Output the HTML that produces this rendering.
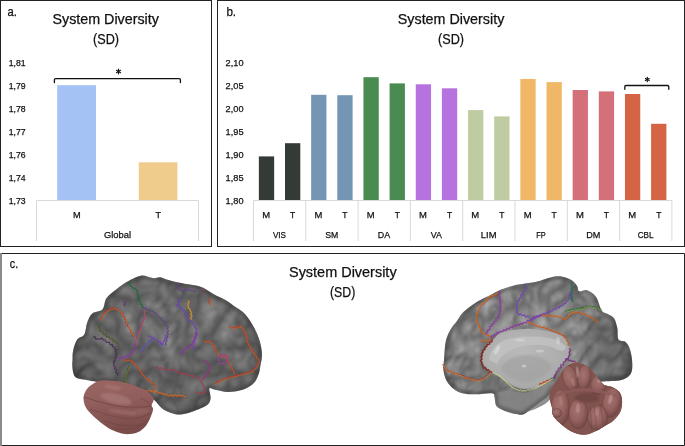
<!DOCTYPE html>
<html><head><meta charset="utf-8"><style>
html,body{margin:0;padding:0;background:#fff;width:685px;height:446px;overflow:hidden}
svg{display:block;font-family:"Liberation Sans", sans-serif}
text{stroke:#111;stroke-width:0.25px}
</style></head><body>
<svg width="685" height="446" viewBox="0 0 685 446">
<defs>
<radialGradient id="gL" cx="0.55" cy="0.4" r="0.65"><stop offset="0" stop-color="#747474"/><stop offset="0.75" stop-color="#676767"/><stop offset="1" stop-color="#4e4e4e"/></radialGradient>
<radialGradient id="gR" cx="0.45" cy="0.45" r="0.65"><stop offset="0" stop-color="#8e8e8e"/><stop offset="0.75" stop-color="#808080"/><stop offset="1" stop-color="#626262"/></radialGradient>
<radialGradient id="gM" cx="0.45" cy="0.4" r="0.7"><stop offset="0" stop-color="#bababa"/><stop offset="0.8" stop-color="#aaaaaa"/><stop offset="1" stop-color="#9a9a9a"/></radialGradient>
<radialGradient id="gC" cx="0.55" cy="0.35" r="0.7"><stop offset="0" stop-color="#9a6664"/><stop offset="0.7" stop-color="#895856"/><stop offset="1" stop-color="#6e4442"/></radialGradient>
</defs>
<clipPath id="cL"><path d="M72.5 360.0 C72.6 357.4 72.3 354.1 73.1 350.7 C73.9 347.3 75.3 342.3 77.2 339.6 C79.1 336.9 82.5 337.5 84.2 334.6 C85.9 331.8 85.9 326.0 87.2 322.5 C88.5 319.0 89.8 315.6 92.3 313.4 C94.8 311.2 100.1 311.9 102.4 309.4 C104.8 306.9 104.1 301.7 106.4 298.3 C108.8 294.9 113.1 291.9 116.5 289.2 C119.9 286.5 122.6 284.4 126.6 282.1 C130.6 279.9 136.3 276.4 140.7 275.7 C145.1 275.0 149.6 277.8 152.8 278.1 C156.0 278.4 157.7 277.1 160.0 277.3 C162.3 277.6 163.7 278.7 166.7 279.6 C169.7 280.5 173.9 281.6 178.0 282.5 C182.1 283.4 187.3 283.9 191.4 284.7 C195.5 285.5 198.9 285.8 202.6 287.4 C206.3 289.0 210.1 292.1 213.8 294.2 C217.5 296.3 221.2 297.6 225.0 299.8 C228.8 302.0 232.9 305.2 236.3 307.6 C239.7 310.0 242.2 310.9 245.2 314.3 C248.2 317.7 251.8 323.3 254.2 327.8 C256.6 332.3 258.5 336.8 259.8 341.3 C261.1 345.8 261.9 350.8 262.0 354.7 C262.1 358.6 261.0 361.9 260.5 365.0 C260.0 368.1 259.8 370.7 258.8 373.6 C257.8 376.5 256.7 380.0 254.3 382.6 C251.9 385.2 248.5 387.7 244.2 389.3 C239.9 390.9 233.4 391.9 228.5 392.0 C223.6 392.1 218.2 390.4 215.0 389.8 C211.8 389.2 210.1 387.1 209.4 388.5 C208.7 389.9 211.0 395.6 210.6 398.3 C210.2 401.1 209.8 402.9 207.2 405.0 C204.6 407.1 198.8 409.2 194.9 410.7 C191.0 412.2 187.0 413.4 183.6 414.0 C180.2 414.6 178.0 414.8 174.7 414.0 C171.3 413.2 166.9 411.8 163.5 409.5 C160.1 407.2 157.2 402.8 154.2 400.0 C151.1 397.2 149.7 395.0 145.2 393.0 C140.7 391.0 133.2 389.7 127.3 388.2 C121.4 386.7 116.3 385.3 110.0 384.0 C103.7 382.7 94.7 381.4 89.2 380.4 C83.7 379.4 79.4 379.2 76.8 378.1 C74.2 377.0 74.2 375.6 73.5 373.6 C72.8 371.6 72.5 368.3 72.3 366.0 C72.1 363.7 72.4 362.6 72.5 360.0Z"/></clipPath>
<clipPath id="cR"><path d="M443.4 370.0 C442.9 366.5 443.7 364.0 444.0 359.7 C444.3 355.4 444.7 347.9 445.3 344.0 C445.9 340.1 446.4 338.8 447.4 336.1 C448.4 333.4 449.9 330.5 451.5 328.0 C453.1 325.5 455.0 323.8 456.8 321.3 C458.6 318.9 459.9 315.8 462.2 313.3 C464.4 310.8 467.6 308.5 470.3 306.5 C473.0 304.5 475.3 302.9 478.4 301.1 C481.5 299.3 485.8 297.5 489.1 295.8 C492.4 294.1 495.4 292.2 498.0 291.0 C500.6 289.8 501.6 289.4 505.0 288.3 C508.4 287.2 513.6 285.6 518.5 284.6 C523.4 283.6 529.7 283.2 534.2 282.3 C538.7 281.4 542.2 279.9 545.4 279.0 C548.6 278.1 550.7 277.1 553.5 276.7 C556.3 276.3 559.4 276.1 562.4 276.7 C565.4 277.3 569.0 278.6 571.4 280.1 C573.8 281.6 575.7 283.8 577.0 285.7 C578.3 287.6 577.6 290.6 579.3 291.3 C581.0 292.1 584.3 289.3 587.1 290.2 C589.9 291.1 593.7 293.5 596.1 296.9 C598.5 300.3 599.8 307.6 601.7 310.4 C603.6 313.2 605.2 312.4 607.3 313.7 C609.3 315.0 612.3 315.8 614.0 318.2 C615.7 320.6 616.6 324.8 617.4 328.3 C618.1 331.9 617.2 337.2 618.5 339.5 C619.8 341.8 623.3 340.3 625.2 341.8 C627.1 343.3 628.6 345.5 629.7 348.5 C630.8 351.5 631.6 356.1 632.0 359.7 C632.4 363.3 632.5 367.2 632.0 370.0 C631.5 372.8 630.6 374.5 628.7 376.2 C626.8 377.9 624.3 379.3 620.6 380.2 C616.9 381.1 613.3 380.7 606.5 381.3 C599.7 381.9 587.8 383.2 580.0 384.0 C572.2 384.8 564.6 385.0 560.0 386.0 C555.4 387.0 554.2 388.1 552.2 389.9 C550.2 391.7 550.0 394.4 547.7 396.6 C545.5 398.8 541.7 401.1 538.7 403.3 C535.7 405.5 532.3 408.1 529.7 410.0 C527.1 411.9 525.6 413.9 523.0 414.5 C520.4 415.1 517.4 414.1 514.0 413.4 C510.6 412.6 505.8 411.3 502.8 410.0 C499.8 408.7 497.4 407.8 496.1 405.6 C494.8 403.4 495.8 398.7 495.0 396.6 C494.2 394.5 494.8 393.6 491.6 393.2 C488.4 392.8 480.8 394.3 475.9 394.3 C471.0 394.3 466.1 394.1 462.4 393.2 C458.7 392.3 456.1 390.8 453.5 388.7 C450.9 386.6 448.4 384.0 446.7 380.9 C445.0 377.8 443.8 373.5 443.4 370.0Z"/></clipPath>
<filter id="tex" x="0" y="0" width="100%" height="100%" filterUnits="userSpaceOnUse" color-interpolation-filters="sRGB"><feTurbulence type="turbulence" baseFrequency="0.05 0.04" numOctaves="2" seed="11" result="n"/><feColorMatrix in="n" type="matrix" values="0 0 0 0 0  0 0 0 0 0  0 0 0 0 0  1 0 0 0 0" result="h"/><feGaussianBlur in="h" stdDeviation="0.8" result="hb"/><feDiffuseLighting in="hb" surfaceScale="3" diffuseConstant="1" lighting-color="#fff" result="lit"><feDistantLight azimuth="235" elevation="55"/></feDiffuseLighting><feColorMatrix in="hb" type="matrix" values="0 0 0 1 0  0 0 0 1 0  0 0 0 1 0  0 0 0 0 1" result="g0"/><feComponentTransfer in="g0" result="col"><feFuncR type="table" tableValues="0.33 0.42 0.5 0.58 0.64 0.68"/><feFuncG type="table" tableValues="0.33 0.42 0.5 0.58 0.64 0.68"/><feFuncB type="table" tableValues="0.33 0.42 0.5 0.58 0.64 0.68"/></feComponentTransfer><feComposite in="col" in2="lit" operator="arithmetic" k1="0" k2="0.8" k3="0.25" k4="-0.105"/></filter>
<filter id="tex2" x="0" y="0" width="100%" height="100%" filterUnits="userSpaceOnUse" color-interpolation-filters="sRGB"><feTurbulence type="turbulence" baseFrequency="0.06 0.05" numOctaves="2" seed="4" result="n"/><feColorMatrix in="n" type="matrix" values="0 0 0 0 0  0 0 0 0 0  0 0 0 0 0  1 0 0 0 0" result="h"/><feGaussianBlur in="h" stdDeviation="0.8" result="hb"/><feDiffuseLighting in="hb" surfaceScale="3" diffuseConstant="1" lighting-color="#fff" result="lit"><feDistantLight azimuth="235" elevation="55"/></feDiffuseLighting><feColorMatrix in="hb" type="matrix" values="0 0 0 1 0  0 0 0 1 0  0 0 0 1 0  0 0 0 0 1" result="g0"/><feComponentTransfer in="g0" result="col"><feFuncR type="table" tableValues="0.33 0.42 0.5 0.58 0.64 0.68"/><feFuncG type="table" tableValues="0.33 0.42 0.5 0.58 0.64 0.68"/><feFuncB type="table" tableValues="0.33 0.42 0.5 0.58 0.64 0.68"/></feComponentTransfer><feComposite in="col" in2="lit" operator="arithmetic" k1="0" k2="0.8" k3="0.25" k4="-0.105"/></filter>
<path d="M72.5 360.0 C72.6 357.4 72.3 354.1 73.1 350.7 C73.9 347.3 75.3 342.3 77.2 339.6 C79.1 336.9 82.5 337.5 84.2 334.6 C85.9 331.8 85.9 326.0 87.2 322.5 C88.5 319.0 89.8 315.6 92.3 313.4 C94.8 311.2 100.1 311.9 102.4 309.4 C104.8 306.9 104.1 301.7 106.4 298.3 C108.8 294.9 113.1 291.9 116.5 289.2 C119.9 286.5 122.6 284.4 126.6 282.1 C130.6 279.9 136.3 276.4 140.7 275.7 C145.1 275.0 149.6 277.8 152.8 278.1 C156.0 278.4 157.7 277.1 160.0 277.3 C162.3 277.6 163.7 278.7 166.7 279.6 C169.7 280.5 173.9 281.6 178.0 282.5 C182.1 283.4 187.3 283.9 191.4 284.7 C195.5 285.5 198.9 285.8 202.6 287.4 C206.3 289.0 210.1 292.1 213.8 294.2 C217.5 296.3 221.2 297.6 225.0 299.8 C228.8 302.0 232.9 305.2 236.3 307.6 C239.7 310.0 242.2 310.9 245.2 314.3 C248.2 317.7 251.8 323.3 254.2 327.8 C256.6 332.3 258.5 336.8 259.8 341.3 C261.1 345.8 261.9 350.8 262.0 354.7 C262.1 358.6 261.0 361.9 260.5 365.0 C260.0 368.1 259.8 370.7 258.8 373.6 C257.8 376.5 256.7 380.0 254.3 382.6 C251.9 385.2 248.5 387.7 244.2 389.3 C239.9 390.9 233.4 391.9 228.5 392.0 C223.6 392.1 218.2 390.4 215.0 389.8 C211.8 389.2 210.1 387.1 209.4 388.5 C208.7 389.9 211.0 395.6 210.6 398.3 C210.2 401.1 209.8 402.9 207.2 405.0 C204.6 407.1 198.8 409.2 194.9 410.7 C191.0 412.2 187.0 413.4 183.6 414.0 C180.2 414.6 178.0 414.8 174.7 414.0 C171.3 413.2 166.9 411.8 163.5 409.5 C160.1 407.2 157.2 402.8 154.2 400.0 C151.1 397.2 149.7 395.0 145.2 393.0 C140.7 391.0 133.2 389.7 127.3 388.2 C121.4 386.7 116.3 385.3 110.0 384.0 C103.7 382.7 94.7 381.4 89.2 380.4 C83.7 379.4 79.4 379.2 76.8 378.1 C74.2 377.0 74.2 375.6 73.5 373.6 C72.8 371.6 72.5 368.3 72.3 366.0 C72.1 363.7 72.4 362.6 72.5 360.0Z" fill="url(#gL)"/>
<g clip-path="url(#cL)" style="mix-blend-mode:overlay"><rect x="60" y="270" width="210" height="150" filter="url(#tex)"/></g>
<g clip-path="url(#cL)"><path d="M72.5 360.0 C72.6 357.4 72.3 354.1 73.1 350.7 C73.9 347.3 75.3 342.3 77.2 339.6 C79.1 336.9 82.5 337.5 84.2 334.6 C85.9 331.8 85.9 326.0 87.2 322.5 C88.5 319.0 89.8 315.6 92.3 313.4 C94.8 311.2 100.1 311.9 102.4 309.4 C104.8 306.9 104.1 301.7 106.4 298.3 C108.8 294.9 113.1 291.9 116.5 289.2 C119.9 286.5 122.6 284.4 126.6 282.1 C130.6 279.9 136.3 276.4 140.7 275.7 C145.1 275.0 149.6 277.8 152.8 278.1 C156.0 278.4 157.7 277.1 160.0 277.3 C162.3 277.6 163.7 278.7 166.7 279.6 C169.7 280.5 173.9 281.6 178.0 282.5 C182.1 283.4 187.3 283.9 191.4 284.7 C195.5 285.5 198.9 285.8 202.6 287.4 C206.3 289.0 210.1 292.1 213.8 294.2 C217.5 296.3 221.2 297.6 225.0 299.8 C228.8 302.0 232.9 305.2 236.3 307.6 C239.7 310.0 242.2 310.9 245.2 314.3 C248.2 317.7 251.8 323.3 254.2 327.8 C256.6 332.3 258.5 336.8 259.8 341.3 C261.1 345.8 261.9 350.8 262.0 354.7 C262.1 358.6 261.0 361.9 260.5 365.0 C260.0 368.1 259.8 370.7 258.8 373.6 C257.8 376.5 256.7 380.0 254.3 382.6 C251.9 385.2 248.5 387.7 244.2 389.3 C239.9 390.9 233.4 391.9 228.5 392.0 C223.6 392.1 218.2 390.4 215.0 389.8 C211.8 389.2 210.1 387.1 209.4 388.5 C208.7 389.9 211.0 395.6 210.6 398.3 C210.2 401.1 209.8 402.9 207.2 405.0 C204.6 407.1 198.8 409.2 194.9 410.7 C191.0 412.2 187.0 413.4 183.6 414.0 C180.2 414.6 178.0 414.8 174.7 414.0 C171.3 413.2 166.9 411.8 163.5 409.5 C160.1 407.2 157.2 402.8 154.2 400.0 C151.1 397.2 149.7 395.0 145.2 393.0 C140.7 391.0 133.2 389.7 127.3 388.2 C121.4 386.7 116.3 385.3 110.0 384.0 C103.7 382.7 94.7 381.4 89.2 380.4 C83.7 379.4 79.4 379.2 76.8 378.1 C74.2 377.0 74.2 375.6 73.5 373.6 C72.8 371.6 72.5 368.3 72.3 366.0 C72.1 363.7 72.4 362.6 72.5 360.0Z" fill="none" stroke="#333" stroke-width="7" opacity="0.35" filter="url(#bl1)"/></g>
<path d="M443.4 370.0 C442.9 366.5 443.7 364.0 444.0 359.7 C444.3 355.4 444.7 347.9 445.3 344.0 C445.9 340.1 446.4 338.8 447.4 336.1 C448.4 333.4 449.9 330.5 451.5 328.0 C453.1 325.5 455.0 323.8 456.8 321.3 C458.6 318.9 459.9 315.8 462.2 313.3 C464.4 310.8 467.6 308.5 470.3 306.5 C473.0 304.5 475.3 302.9 478.4 301.1 C481.5 299.3 485.8 297.5 489.1 295.8 C492.4 294.1 495.4 292.2 498.0 291.0 C500.6 289.8 501.6 289.4 505.0 288.3 C508.4 287.2 513.6 285.6 518.5 284.6 C523.4 283.6 529.7 283.2 534.2 282.3 C538.7 281.4 542.2 279.9 545.4 279.0 C548.6 278.1 550.7 277.1 553.5 276.7 C556.3 276.3 559.4 276.1 562.4 276.7 C565.4 277.3 569.0 278.6 571.4 280.1 C573.8 281.6 575.7 283.8 577.0 285.7 C578.3 287.6 577.6 290.6 579.3 291.3 C581.0 292.1 584.3 289.3 587.1 290.2 C589.9 291.1 593.7 293.5 596.1 296.9 C598.5 300.3 599.8 307.6 601.7 310.4 C603.6 313.2 605.2 312.4 607.3 313.7 C609.3 315.0 612.3 315.8 614.0 318.2 C615.7 320.6 616.6 324.8 617.4 328.3 C618.1 331.9 617.2 337.2 618.5 339.5 C619.8 341.8 623.3 340.3 625.2 341.8 C627.1 343.3 628.6 345.5 629.7 348.5 C630.8 351.5 631.6 356.1 632.0 359.7 C632.4 363.3 632.5 367.2 632.0 370.0 C631.5 372.8 630.6 374.5 628.7 376.2 C626.8 377.9 624.3 379.3 620.6 380.2 C616.9 381.1 613.3 380.7 606.5 381.3 C599.7 381.9 587.8 383.2 580.0 384.0 C572.2 384.8 564.6 385.0 560.0 386.0 C555.4 387.0 554.2 388.1 552.2 389.9 C550.2 391.7 550.0 394.4 547.7 396.6 C545.5 398.8 541.7 401.1 538.7 403.3 C535.7 405.5 532.3 408.1 529.7 410.0 C527.1 411.9 525.6 413.9 523.0 414.5 C520.4 415.1 517.4 414.1 514.0 413.4 C510.6 412.6 505.8 411.3 502.8 410.0 C499.8 408.7 497.4 407.8 496.1 405.6 C494.8 403.4 495.8 398.7 495.0 396.6 C494.2 394.5 494.8 393.6 491.6 393.2 C488.4 392.8 480.8 394.3 475.9 394.3 C471.0 394.3 466.1 394.1 462.4 393.2 C458.7 392.3 456.1 390.8 453.5 388.7 C450.9 386.6 448.4 384.0 446.7 380.9 C445.0 377.8 443.8 373.5 443.4 370.0Z" fill="url(#gR)"/>
<g clip-path="url(#cR)" style="mix-blend-mode:overlay"><rect x="435" y="270" width="205" height="150" filter="url(#tex2)"/></g>
<path d="M495.0 394.0 C496.8 392.8 501.7 391.4 505.0 391.0 C508.3 390.6 511.9 391.2 515.0 391.5 C518.1 391.8 520.3 393.3 523.6 393.0 C526.9 392.7 531.3 390.8 535.0 389.5 C538.7 388.2 543.2 386.9 546.0 385.5 C548.8 384.1 550.3 380.9 552.0 381.0 C553.7 381.1 555.8 383.7 556.0 386.0 C556.2 388.3 554.8 392.0 553.0 395.0 C551.2 398.0 548.7 401.4 545.0 404.0 C541.3 406.6 535.7 408.8 531.0 410.5 C526.3 412.2 521.3 413.9 517.0 414.0 C512.7 414.1 508.3 412.5 505.0 411.0 C501.7 409.5 498.8 407.2 497.0 405.0 C495.2 402.8 494.8 399.8 494.5 398.0 C494.2 396.2 493.2 395.2 495.0 394.0Z" fill="#858585" opacity="0.9" filter="url(#bl05)"/>
<path d="M590.0 322.0 C593.2 318.8 600.7 316.0 605.0 316.0 C609.3 316.0 613.7 318.3 616.0 322.0 C618.3 325.7 617.0 334.2 619.0 338.0 C621.0 341.8 625.8 341.3 628.0 345.0 C630.2 348.7 631.5 355.5 632.0 360.0 C632.5 364.5 632.0 369.0 631.0 372.0 C630.0 375.0 629.2 376.7 626.0 378.0 C622.8 379.3 616.3 380.0 612.0 380.0 C607.7 380.0 603.7 380.0 600.0 378.0 C596.3 376.0 592.5 372.7 590.0 368.0 C587.5 363.3 585.7 355.5 585.0 350.0 C584.3 344.5 585.2 339.7 586.0 335.0 C586.8 330.3 586.8 325.2 590.0 322.0Z" fill="#3a3a3a" opacity="0.25" filter="url(#bl1)" clip-path="url(#cR)"/>
<g clip-path="url(#cR)"><path d="M443.4 370.0 C442.9 366.5 443.7 364.0 444.0 359.7 C444.3 355.4 444.7 347.9 445.3 344.0 C445.9 340.1 446.4 338.8 447.4 336.1 C448.4 333.4 449.9 330.5 451.5 328.0 C453.1 325.5 455.0 323.8 456.8 321.3 C458.6 318.9 459.9 315.8 462.2 313.3 C464.4 310.8 467.6 308.5 470.3 306.5 C473.0 304.5 475.3 302.9 478.4 301.1 C481.5 299.3 485.8 297.5 489.1 295.8 C492.4 294.1 495.4 292.2 498.0 291.0 C500.6 289.8 501.6 289.4 505.0 288.3 C508.4 287.2 513.6 285.6 518.5 284.6 C523.4 283.6 529.7 283.2 534.2 282.3 C538.7 281.4 542.2 279.9 545.4 279.0 C548.6 278.1 550.7 277.1 553.5 276.7 C556.3 276.3 559.4 276.1 562.4 276.7 C565.4 277.3 569.0 278.6 571.4 280.1 C573.8 281.6 575.7 283.8 577.0 285.7 C578.3 287.6 577.6 290.6 579.3 291.3 C581.0 292.1 584.3 289.3 587.1 290.2 C589.9 291.1 593.7 293.5 596.1 296.9 C598.5 300.3 599.8 307.6 601.7 310.4 C603.6 313.2 605.2 312.4 607.3 313.7 C609.3 315.0 612.3 315.8 614.0 318.2 C615.7 320.6 616.6 324.8 617.4 328.3 C618.1 331.9 617.2 337.2 618.5 339.5 C619.8 341.8 623.3 340.3 625.2 341.8 C627.1 343.3 628.6 345.5 629.7 348.5 C630.8 351.5 631.6 356.1 632.0 359.7 C632.4 363.3 632.5 367.2 632.0 370.0 C631.5 372.8 630.6 374.5 628.7 376.2 C626.8 377.9 624.3 379.3 620.6 380.2 C616.9 381.1 613.3 380.7 606.5 381.3 C599.7 381.9 587.8 383.2 580.0 384.0 C572.2 384.8 564.6 385.0 560.0 386.0 C555.4 387.0 554.2 388.1 552.2 389.9 C550.2 391.7 550.0 394.4 547.7 396.6 C545.5 398.8 541.7 401.1 538.7 403.3 C535.7 405.5 532.3 408.1 529.7 410.0 C527.1 411.9 525.6 413.9 523.0 414.5 C520.4 415.1 517.4 414.1 514.0 413.4 C510.6 412.6 505.8 411.3 502.8 410.0 C499.8 408.7 497.4 407.8 496.1 405.6 C494.8 403.4 495.8 398.7 495.0 396.6 C494.2 394.5 494.8 393.6 491.6 393.2 C488.4 392.8 480.8 394.3 475.9 394.3 C471.0 394.3 466.1 394.1 462.4 393.2 C458.7 392.3 456.1 390.8 453.5 388.7 C450.9 386.6 448.4 384.0 446.7 380.9 C445.0 377.8 443.8 373.5 443.4 370.0Z" fill="none" stroke="#333" stroke-width="7" opacity="0.35" filter="url(#bl1)"/></g>
<path d="M493.7 339.1 C495.5 337.3 495.7 335.8 498.4 334.4 C501.1 333.0 505.6 331.4 510.0 330.5 C514.5 329.6 520.6 329.1 525.1 328.9 C529.6 328.7 533.1 329.1 537.0 329.5 C540.9 329.9 544.9 330.5 548.6 331.3 C552.3 332.1 556.1 333.2 559.0 334.5 C561.9 335.8 564.1 336.8 565.9 339.1 C567.7 341.4 569.3 345.6 569.8 348.5 C570.3 351.4 570.2 353.5 569.0 356.4 C567.8 359.3 565.1 362.7 562.8 365.8 C560.4 368.9 557.0 373.1 554.9 375.2 C552.8 377.3 551.8 377.1 550.2 378.4 C548.6 379.7 547.1 381.8 545.5 383.1 C543.9 384.4 543.4 385.3 540.8 386.2 C538.2 387.1 533.2 388.1 529.8 388.5 C526.4 388.9 523.8 389.3 520.4 388.5 C517.0 387.7 513.3 385.7 509.4 383.5 C505.5 381.3 500.5 377.6 496.8 375.2 C493.1 372.8 489.9 371.4 487.4 369.0 C484.9 366.6 482.7 363.7 481.9 361.1 C481.1 358.5 481.8 355.9 482.7 353.3 C483.6 350.7 485.6 347.8 487.4 345.4 C489.2 343.0 491.9 340.9 493.7 339.1Z" fill="url(#gM)"/>
<clipPath id="cM"><path d="M493.7 339.1 C495.5 337.3 495.7 335.8 498.4 334.4 C501.1 333.0 505.6 331.4 510.0 330.5 C514.5 329.6 520.6 329.1 525.1 328.9 C529.6 328.7 533.1 329.1 537.0 329.5 C540.9 329.9 544.9 330.5 548.6 331.3 C552.3 332.1 556.1 333.2 559.0 334.5 C561.9 335.8 564.1 336.8 565.9 339.1 C567.7 341.4 569.3 345.6 569.8 348.5 C570.3 351.4 570.2 353.5 569.0 356.4 C567.8 359.3 565.1 362.7 562.8 365.8 C560.4 368.9 557.0 373.1 554.9 375.2 C552.8 377.3 551.8 377.1 550.2 378.4 C548.6 379.7 547.1 381.8 545.5 383.1 C543.9 384.4 543.4 385.3 540.8 386.2 C538.2 387.1 533.2 388.1 529.8 388.5 C526.4 388.9 523.8 389.3 520.4 388.5 C517.0 387.7 513.3 385.7 509.4 383.5 C505.5 381.3 500.5 377.6 496.8 375.2 C493.1 372.8 489.9 371.4 487.4 369.0 C484.9 366.6 482.7 363.7 481.9 361.1 C481.1 358.5 481.8 355.9 482.7 353.3 C483.6 350.7 485.6 347.8 487.4 345.4 C489.2 343.0 491.9 340.9 493.7 339.1Z"/></clipPath>
<g clip-path="url(#cM)">
<path d="M489 360 C490 345 505 337 525 336.5 C545 336 560 338 566 347 C565 352 560 352 553 347.5 C545 344 530 344 520 347 C508 350 500 356 497 364 Z" fill="#c2c2c2" opacity="0.85" filter="url(#bl05)"/>
<path d="M500 368 C505 360 515 355 528 355 C540 355 548 360 552 367 C547 375 538 380 528 382 C516 382 506 377 500 368Z" fill="#a2a2a2" opacity="0.7" filter="url(#bl1)"/>
<ellipse cx="497" cy="350" rx="2" ry="5" transform="rotate(30 497 350)" fill="#e0e0e0" opacity="0.6" filter="url(#bl05)"/>
<ellipse cx="520" cy="340" rx="5" ry="1.5" fill="#dedede" opacity="0.5" filter="url(#bl05)"/>
<ellipse cx="540" cy="351" rx="4" ry="1.5" fill="#dedede" opacity="0.5" filter="url(#bl05)"/>
<ellipse cx="558" cy="341" rx="2" ry="4" fill="#d8d8d8" opacity="0.5" filter="url(#bl05)"/>
<ellipse cx="524" cy="366" rx="2.5" ry="1.5" fill="#e0e0e0" opacity="0.5" filter="url(#bl05)"/>
</g>
<polyline points="128.3,282.9 130.3,283.6 129.9,285.7 131.6,286.1 132.7,288.3 134.9,288.1 136.0,289.4 137.8,291.0 137.0,293.4 138.6,295.0 137.7,297.2 139.8,298.4 138.7,300.5 140.8,301.7 140.0,304.1 142.1,304.7 142.2,306.9 143.9,307.8" fill="none" stroke="#1f6a2a" stroke-width="1.15" stroke-linejoin="round" opacity="0.85"/>
<polyline points="128.7,283.4 130.6,284.2 130.5,286.2 132.1,286.8 133.4,288.4 135.5,288.4 136.4,289.9 137.9,291.7 137.7,293.8 139.2,295.5 138.6,297.5 140.2,298.9 139.5,300.9 141.2,302.3 140.6,304.5 142.6,305.2 142.8,307.3 144.4,308.3" fill="none" stroke="#1f6a60" stroke-width="0.6" stroke-linejoin="round" opacity="0.8"/>
<polyline points="143.7,308.4 145.9,307.5 147.0,309.8 149.2,309.1 150.4,310.8 152.6,310.7 153.3,312.7 155.7,312.8 156.0,315.0 158.2,315.3 158.5,317.5 160.7,317.8 161.1,320.0 163.4,320.3 163.5,322.5 166.0,323.2 165.7,325.9 168.4,327.1 166.6,328.8 168.5,330.5 166.8,332.1 167.9,333.9 166.3,335.4 167.9,337.4 165.8,338.7 167.0,340.8 165.1,342.1 165.9,344.1 165.0,345.7" fill="none" stroke="#8038a8" stroke-width="1.15" stroke-linejoin="round" opacity="0.85"/>
<polyline points="144.2,308.9 146.3,308.4 147.7,309.8 149.6,309.7 150.9,311.4 153.1,311.0 154.3,312.7 156.2,313.3 156.7,315.3 158.5,316.0 159.2,317.8 161.2,318.3 161.6,320.5 163.5,321.1 164.1,322.9 166.0,324.1 166.4,326.3 168.4,327.6 167.4,329.3 168.8,331.0 167.6,332.6 168.6,334.5 167.2,336.0 167.8,337.8 166.7,339.3 167.1,341.2 166.0,342.7 166.4,344.6 165.5,346.2" fill="none" stroke="#1f6a2a" stroke-width="0.6" stroke-linejoin="round" opacity="0.8"/>
<polyline points="143.1,309.6 144.6,311.3 143.9,313.4 145.5,315.1 144.2,316.9 145.1,319.1 142.7,320.1 143.5,322.3 141.7,323.6 142.3,325.7 140.3,326.9 141.1,329.1 139.0,330.2 139.8,332.4 137.6,333.5 138.5,335.8 136.6,337.1 137.6,339.3 135.8,341.0 136.5,343.2 135.5,345.0" fill="none" stroke="#a03490" stroke-width="1.15" stroke-linejoin="round" opacity="0.85"/>
<polyline points="143.7,310.1 145.1,311.8 144.3,313.9 145.4,315.7 144.9,317.4 145.2,319.5 143.8,320.8 143.9,322.8 142.3,324.1 142.5,326.1 141.0,327.5 141.3,329.5 139.7,330.8 140.0,332.8 138.4,334.1 138.9,336.2 137.4,337.6 137.6,339.7 136.3,341.5 137.1,343.7 136.0,345.5" fill="none" stroke="#d07a28" stroke-width="0.6" stroke-linejoin="round" opacity="0.8"/>
<polyline points="148.1,337.1 150.0,335.5 151.2,337.7 153.6,337.4 154.8,339.6 157.2,339.7 158.0,341.7 160.3,341.6 161.0,343.8 163.6,345.1" fill="none" stroke="#8038a8" stroke-width="1.15" stroke-linejoin="round" opacity="0.85"/>
<polyline points="148.5,337.5 150.5,336.1 151.9,337.8 154.1,338.0 155.3,340.1 157.6,340.4 158.7,342.1 160.8,342.3 161.6,344.1 164.1,345.6" fill="none" stroke="#4a5fc0" stroke-width="0.6" stroke-linejoin="round" opacity="0.8"/>
<polyline points="100.8,320.6 100.5,318.4 102.7,317.4 102.3,315.2 104.0,314.2 104.5,312.2 106.7,312.3 107.0,310.0 109.0,310.4 110.2,308.4 112.2,308.9 114.1,307.1 115.0,309.5 117.3,308.9 118.3,310.7 120.4,311.4 121.0,313.6 123.4,314.3 122.8,316.3 125.0,317.1 124.4,319.1 126.0,320.1 125.6,322.5 127.9,323.5 127.2,325.9 129.4,326.9 129.2,329.1 131.0,330.3 130.6,332.7 132.9,333.5 133.1,335.9 134.7,337.2" fill="none" stroke="#b8321e" stroke-width="1.15" stroke-linejoin="round" opacity="0.85"/>
<polyline points="101.2,321.1 101.2,319.0 102.9,317.8 102.7,315.6 104.3,314.5 105.2,312.9 107.1,312.6 107.5,310.5 109.4,310.7 110.7,309.0 112.8,309.5 114.5,307.7 115.7,309.5 117.8,309.4 118.8,311.2 121.0,311.8 121.6,314.0 123.8,314.8 123.7,316.7 125.1,317.8 125.1,319.6 126.5,320.7 126.5,322.8 128.2,324.0 128.2,326.1 129.9,327.4 129.6,329.6 131.6,330.7 131.3,333.1 133.5,334.0 133.6,336.3 135.2,337.7" fill="none" stroke="#d07a28" stroke-width="0.6" stroke-linejoin="round" opacity="0.8"/>
<polyline points="97.3,324.0 99.1,325.2 98.5,327.3 100.2,328.6 99.7,331.1 102.5,331.7 103.2,334.4 105.8,334.2 106.6,336.7 109.0,336.7 110.1,338.8 112.5,338.7 113.3,341.2 115.8,341.0 116.7,343.3 118.7,343.9" fill="none" stroke="#1f6a2a" stroke-width="1.15" stroke-linejoin="round" opacity="0.85"/>
<polyline points="97.8,324.4 99.3,325.8 98.9,327.9 100.5,329.2 100.4,331.4 102.9,332.2 103.8,334.9 106.1,335.0 107.3,336.9 109.5,337.2 110.5,339.4 112.7,339.7 114.0,341.4 116.1,341.9 117.3,343.7 119.2,344.4" fill="none" stroke="#b8321e" stroke-width="0.6" stroke-linejoin="round" opacity="0.8"/>
<polyline points="93.1,337.3 95.2,336.9 95.8,339.1 97.5,338.8 99.8,339.2 102.1,338.0 103.2,339.9 105.4,340.2 106.4,342.5 109.1,342.1 110.0,344.4 112.4,344.6 112.5,346.7 114.5,347.2 114.6,349.2 116.9,350.1 115.4,351.8 116.7,353.5 115.6,355.2 116.7,357.1 115.0,358.4 115.5,360.5 113.5,361.6 114.2,363.4 113.7,365.4 115.2,366.8 114.7,368.9 116.6,370.1 115.7,372.4 117.8,373.5 117.8,375.4" fill="none" stroke="#2a2a2a" stroke-width="1.15" stroke-linejoin="round" opacity="0.85"/>
<polyline points="93.6,337.7 95.6,337.6 96.5,339.3 98.0,339.3 100.3,339.8 102.6,338.4 103.7,340.4 106.0,340.6 107.1,342.6 109.3,343.0 110.4,344.9 112.8,345.2 113.2,347.1 114.9,347.8 115.2,349.7 117.3,350.6 115.9,352.3 117.0,354.0 115.9,355.7 117.2,357.6 115.6,358.9 115.8,360.9 114.4,362.3 114.7,363.9 114.1,366.0 115.9,367.3 115.2,369.4 117.0,370.7 116.5,372.8 118.2,374.0 118.3,375.9" fill="none" stroke="#8038a8" stroke-width="0.6" stroke-linejoin="round" opacity="0.8"/>
<polyline points="123.3,301.2 124.8,302.6 123.9,304.5 124.6,306.1" fill="none" stroke="#8038a8" stroke-width="1.15" stroke-linejoin="round" opacity="0.85"/>
<polyline points="123.9,301.7 125.2,303.2 124.5,305.0 125.1,306.6" fill="none" stroke="#2a2a2a" stroke-width="0.6" stroke-linejoin="round" opacity="0.8"/>
<polyline points="178.0,282.5 178.7,284.6 177.1,286.4 178.0,288.1 178.9,289.7 181.0,289.4 182.0,291.5 183.6,289.6 186.1,290.6 188.0,288.4 189.5,290.8 191.9,289.7 194.0,291.8 196.2,290.1" fill="none" stroke="#8038a8" stroke-width="1.15" stroke-linejoin="round" opacity="0.85"/>
<polyline points="178.7,283.1 179.3,285.1 178.0,287.0 178.5,288.5 179.4,290.1 181.3,290.2 182.6,292.1 184.3,290.6 186.5,290.8 188.4,289.3 190.1,291.0 192.3,290.6 194.3,291.8 196.7,290.6" fill="none" stroke="#1f6a2a" stroke-width="0.6" stroke-linejoin="round" opacity="0.8"/>
<polyline points="179.7,298.3 180.0,300.6 177.7,301.6 178.2,303.9 176.5,305.8 178.9,305.9 179.9,308.1 182.4,308.3 182.6,310.6 184.7,311.6 184.4,314.2 186.6,314.8 186.2,317.1 188.2,317.9 188.1,320.2 190.4,320.0 190.6,322.3 192.9,322.2 193.1,324.1 195.2,325.1 194.5,327.5 196.7,328.8 195.7,330.5 197.0,332.2 195.3,333.6 196.3,335.8 194.4,337.0 195.3,339.0 193.8,340.5 194.7,342.4 193.4,343.9 194.4,345.9 192.7,347.7 192.8,350.0" fill="none" stroke="#8038a8" stroke-width="1.15" stroke-linejoin="round" opacity="0.85"/>
<polyline points="180.3,298.9 180.4,301.0 178.4,302.1 178.5,304.3 177.0,306.3 179.3,306.5 180.3,308.6 182.8,308.9 183.2,311.1 184.9,312.3 185.4,314.4 187.0,315.4 187.0,317.4 188.6,318.4 188.8,320.4 190.6,320.8 191.3,322.7 193.2,323.0 193.6,324.6 195.5,325.7 195.4,327.9 197.2,329.3 196.1,331.0 197.3,332.7 196.2,334.2 196.6,336.2 195.0,337.5 195.6,339.5 194.3,341.0 195.2,342.9 193.7,344.4 194.7,346.3 193.4,348.3 193.3,350.5" fill="none" stroke="#4a5fc0" stroke-width="0.6" stroke-linejoin="round" opacity="0.8"/>
<polyline points="188.1,300.1 189.1,302.3 187.3,304.0 188.6,305.6 187.8,308.0 189.9,308.8 189.8,310.8 191.7,312.0 190.6,313.9 191.9,315.8 190.2,317.7 191.1,319.6" fill="none" stroke="#d07a28" stroke-width="1.15" stroke-linejoin="round" opacity="0.85"/>
<polyline points="188.4,300.6 189.2,302.7 187.9,304.5 188.7,306.4 188.7,308.3 190.5,309.3 190.5,311.2 191.9,312.5 191.0,314.4 192.0,316.3 191.2,318.2 191.6,320.1" fill="none" stroke="#c8b850" stroke-width="0.6" stroke-linejoin="round" opacity="0.8"/>
<polyline points="209.8,297.4 210.4,300.1 208.4,302.1 210.2,303.3 210.5,305.3" fill="none" stroke="#b8321e" stroke-width="1.15" stroke-linejoin="round" opacity="0.85"/>
<polyline points="210.6,298.0 210.6,300.5 209.0,302.6 210.6,303.9 211.0,305.8" fill="none" stroke="#d07a28" stroke-width="0.6" stroke-linejoin="round" opacity="0.8"/>
<polyline points="201.3,289.2 204.0,290.5" fill="none" stroke="#a03490" stroke-width="1.15" stroke-linejoin="round" opacity="0.85"/>
<polyline points="202.2,289.3 204.5,291.0" fill="none" stroke="#b8321e" stroke-width="0.6" stroke-linejoin="round" opacity="0.8"/>
<polyline points="228.8,327.1 230.8,326.5 232.0,328.0 234.0,327.2 235.7,328.9 236.2,326.7 238.8,327.1 240.0,325.0 240.0,327.2 242.2,327.5 242.2,329.7 244.6,329.9 244.4,331.8 246.1,333.1 244.9,335.1 246.9,336.3 245.8,338.2 247.6,339.5 246.2,341.7 248.6,342.5 248.1,344.8 249.9,345.9 249.7,348.1 251.9,349.0 251.8,351.4 254.2,352.1 254.0,354.5 256.1,355.4 256.0,357.7 258.4,358.5 258.3,360.3 259.1,362.4 257.0,363.5 257.7,365.5 256.0,366.2 255.6,368.7 253.4,369.3 252.7,372.0 250.6,371.0 249.4,372.9 247.4,372.0 246.2,374.0 244.2,373.1 242.7,374.6 240.8,374.1 239.4,375.8 237.3,374.6 236.0,376.5 233.9,375.5 232.6,377.3 230.6,376.6 229.2,378.2 227.0,377.4 225.7,379.3 223.6,378.9 222.3,380.7 220.0,380.0 219.1,382.2 216.9,381.9 215.9,383.8 214.0,384.0" fill="none" stroke="#b8321e" stroke-width="1.15" stroke-linejoin="round" opacity="0.85"/>
<polyline points="229.3,327.4 231.3,326.8 232.6,328.4 234.5,327.9 236.1,329.3 237.1,327.6 238.9,327.1 240.4,325.6 240.7,327.5 242.7,328.0 243.1,329.9 244.7,330.7 245.0,332.3 246.4,333.7 245.6,335.5 247.1,336.9 246.4,338.7 247.6,340.1 247.2,342.0 248.7,343.2 248.7,345.2 250.5,346.4 250.5,348.4 252.2,349.6 252.4,351.7 254.3,352.8 254.6,354.9 256.7,355.8 256.6,358.2 258.6,359.2 258.8,360.8 259.3,362.8 257.7,364.0 258.4,366.0 256.8,367.0 256.1,369.1 253.9,369.8 253.1,372.2 251.1,371.7 249.9,373.3 248.0,373.0 246.6,374.4 244.7,373.7 243.2,375.1 241.3,374.6 239.8,376.0 237.9,375.5 236.4,376.8 234.5,376.5 233.0,377.7 231.1,377.1 229.7,378.5 227.6,378.2 226.3,380.0 224.1,379.4 222.7,381.0 220.6,380.7 219.5,382.6 217.6,382.6 216.3,384.1 214.5,384.5" fill="none" stroke="#d07a28" stroke-width="0.6" stroke-linejoin="round" opacity="0.8"/>
<polyline points="203.4,341.9 205.0,340.8 206.6,342.0 208.2,340.4 209.4,341.7 211.8,342.1 212.0,344.7 214.5,345.4 213.7,347.5 215.8,348.6 214.8,350.7 216.8,351.4 217.0,354.0 219.4,354.4 220.5,357.1 221.9,355.0 223.7,356.6 225.1,354.8 226.0,355.3 227.8,356.7 226.9,358.5 228.1,359.9 227.5,361.8 229.4,363.1 229.6,365.4 231.7,366.6 231.2,368.9 233.3,369.8 232.9,372.0 234.3,373.3" fill="none" stroke="#b8321e" stroke-width="1.15" stroke-linejoin="round" opacity="0.85"/>
<polyline points="203.9,342.4 205.5,341.4 207.1,342.3 208.7,341.2 210.0,342.1 212.0,343.0 212.6,345.1 215.1,345.9 214.6,347.8 216.0,349.2 215.7,351.1 217.1,352.1 217.8,354.2 219.7,355.1 221.0,357.1 222.4,355.8 224.2,356.6 225.6,355.5 226.9,355.8 228.0,357.2 227.5,359.0 228.6,360.4 228.1,362.3 229.7,363.7 230.2,365.8 231.9,367.2 232.0,369.2 233.5,370.5 233.7,372.3 234.8,373.8" fill="none" stroke="#d07a28" stroke-width="0.6" stroke-linejoin="round" opacity="0.8"/>
<polyline points="203.1,361.1 205.8,361.0 206.8,362.9 208.6,364.1 208.1,366.0 209.9,367.2 209.4,368.8 209.5,371.1 207.2,371.9 207.0,374.1 204.9,375.0 204.8,377.1 202.8,377.8 202.3,379.7" fill="none" stroke="#8038a8" stroke-width="1.15" stroke-linejoin="round" opacity="0.85"/>
<polyline points="203.7,361.4 206.2,361.7 207.8,363.2 209.2,364.5 208.8,366.4 210.3,367.7 209.9,369.2 209.8,371.5 207.8,372.5 207.4,374.5 205.7,375.7 205.4,377.7 203.4,378.4 202.8,380.2" fill="none" stroke="#b8321e" stroke-width="0.6" stroke-linejoin="round" opacity="0.8"/>
<polyline points="155.5,367.6 157.5,367.0 158.8,368.8 161.0,367.6 162.2,369.7 164.1,369.1 166.0,370.1 167.9,369.3 169.7,370.4 171.6,369.5 173.3,370.5 175.5,370.0 176.6,372.2 178.8,371.5 180.0,373.6 182.3,372.6 183.6,374.6 185.7,373.2 187.0,375.5 189.0,374.6 190.5,376.0 192.5,375.1 193.8,377.2 195.8,376.3 197.3,377.7 199.9,377.2 199.7,379.9 201.8,381.5 201.4,383.5 203.4,384.3 202.6,386.5 204.9,388.0 204.7,390.1 205.7,392.3 204.4,392.7 202.6,394.3 200.9,392.7 198.9,394.2 197.2,392.4 194.9,392.5" fill="none" stroke="#b8321e" stroke-width="1.15" stroke-linejoin="round" opacity="0.85"/>
<polyline points="156.1,367.9 158.1,367.4 159.4,369.0 161.4,368.6 162.8,369.9 164.6,369.4 166.4,370.7 168.4,369.7 170.2,370.8 172.2,370.0 173.9,370.9 175.9,370.7 177.3,372.2 179.3,372.1 180.7,373.7 182.7,373.2 184.2,374.5 186.1,374.3 187.5,375.7 189.5,374.9 190.9,376.5 193.0,375.7 194.4,377.2 196.4,376.6 197.8,378.2 200.0,377.9 200.2,380.4 202.0,382.2 202.0,383.9 203.8,384.9 203.6,386.8 205.4,388.5 205.7,390.8 205.8,392.6 204.9,393.5 203.1,394.5 201.4,393.8 199.5,394.4 197.6,393.0 195.4,393.0" fill="none" stroke="#4a5fc0" stroke-width="0.6" stroke-linejoin="round" opacity="0.8"/>
<polyline points="143.8,391.2 145.7,390.3 147.3,391.4 149.2,390.1 150.7,391.7 153.0,390.7 154.9,392.4 157.3,391.2 158.5,393.2 160.5,392.1 161.6,394.1 163.6,393.4 164.9,394.9 167.0,394.3 168.7,396.0 170.9,395.1 172.8,396.3 174.8,394.8 177.0,396.2 179.1,394.6 180.7,396.2 182.6,395.3 184.2,396.8 186.0,396.5" fill="none" stroke="#d07a28" stroke-width="1.15" stroke-linejoin="round" opacity="0.85"/>
<polyline points="144.3,391.6 146.2,390.6 147.8,391.9 149.6,390.9 151.2,392.3 153.5,391.5 155.4,392.8 157.7,392.0 159.1,393.3 160.9,392.9 162.2,394.5 164.1,393.8 165.4,395.3 167.5,394.8 169.3,396.1 171.5,395.4 173.3,396.7 175.3,395.8 177.5,396.6 179.5,395.7 181.2,396.8 183.1,395.9 184.7,397.2 186.5,397.0" fill="none" stroke="#b8321e" stroke-width="0.6" stroke-linejoin="round" opacity="0.8"/>
<polyline points="196.3,332.6 197.2,334.6 195.4,335.8 196.0,337.8 194.1,338.7 194.3,341.1 192.2,342.0 192.1,344.3 190.3,345.2 189.3,347.1 186.9,347.0 186.3,349.5 183.6,349.2 183.4,352.0 180.8,352.2 179.9,354.1" fill="none" stroke="#8038a8" stroke-width="1.15" stroke-linejoin="round" opacity="0.85"/>
<polyline points="196.9,333.1 197.5,335.1 196.0,336.4 196.6,338.3 194.9,339.3 194.9,341.7 192.8,342.6 192.7,344.8 190.8,345.7 189.9,347.8 187.5,347.7 186.5,349.7 184.2,349.9 183.5,352.1 181.6,353.0 180.4,354.6" fill="none" stroke="#a03490" stroke-width="0.6" stroke-linejoin="round" opacity="0.8"/>
<polyline points="128.9,365.7 129.3,367.9 127.3,368.7 127.7,370.9 125.8,371.9 126.6,373.9 124.8,375.2 125.6,377.2 124.0,379.0 126.1,380.0 125.5,382.5 127.5,383.4 128.0,385.4 129.6,386.3" fill="none" stroke="#1f6a2a" stroke-width="1.15" stroke-linejoin="round" opacity="0.85"/>
<polyline points="129.7,366.4 129.7,368.3 128.1,369.4 127.9,371.2 126.1,372.4 126.8,374.3 125.2,375.7 126.1,377.7 124.4,379.5 126.3,380.7 126.4,382.8 127.9,384.0 128.5,385.9 130.1,386.8" fill="none" stroke="#d07a28" stroke-width="0.6" stroke-linejoin="round" opacity="0.8"/>
<polyline points="123.7,360.9 125.4,359.5 127.1,360.8 128.7,359.3 130.0,360.6 132.1,360.7 132.4,363.0 134.8,362.7 135.0,364.8 137.0,365.5 137.0,367.8 139.2,368.5 139.5,370.6 141.6,371.7 141.4,374.1 143.4,375.0 144.3,377.0 146.3,377.5 146.9,379.8 149.3,379.8 150.1,382.3 152.8,382.0 153.1,384.2 155.2,385.3 155.3,386.8 154.3,389.2 152.3,390.5" fill="none" stroke="#b8321e" stroke-width="1.15" stroke-linejoin="round" opacity="0.85"/>
<polyline points="124.2,361.2 125.9,360.3 127.6,361.0 129.2,360.2 130.7,361.0 132.4,361.4 133.2,363.1 135.1,363.4 135.6,365.2 137.4,366.1 137.9,368.0 139.7,368.9 139.9,371.2 141.9,372.2 142.0,374.6 144.0,375.4 144.8,377.5 146.7,378.1 147.6,380.1 149.7,380.4 150.8,382.5 153.2,382.6 154.0,384.5 155.7,385.8 155.9,387.4 154.7,389.6 152.8,391.0" fill="none" stroke="#d07a28" stroke-width="0.6" stroke-linejoin="round" opacity="0.8"/>
<polyline points="118.9,359.4 120.1,357.3 122.3,358.6 123.6,356.7 125.8,357.6 126.6,355.2 129.1,356.0 129.8,353.9 132.2,353.4 132.4,351.0 134.6,350.3 135.0,348.5 136.3,346.8 134.5,345.1 135.5,343.4" fill="none" stroke="#8038a8" stroke-width="1.15" stroke-linejoin="round" opacity="0.85"/>
<polyline points="119.3,359.6 120.8,358.2 122.7,358.7 124.1,357.4 126.2,358.0 127.4,356.1 129.5,356.3 130.6,354.7 132.5,353.7 133.1,351.6 135.1,350.8 135.4,349.0 136.6,347.3 135.3,345.6 136.0,343.9" fill="none" stroke="#a03490" stroke-width="0.6" stroke-linejoin="round" opacity="0.8"/>
<polyline points="141.1,352.2 141.3,349.9 143.4,348.9 143.4,346.3 145.6,346.0 146.0,343.8 148.2,343.5 148.3,341.0 150.9,340.4 152.3,338.4" fill="none" stroke="#4a5fc0" stroke-width="1.15" stroke-linejoin="round" opacity="0.85"/>
<polyline points="141.5,352.6 141.8,350.4 143.7,349.3 143.9,346.8 146.1,346.5 146.5,344.4 148.4,343.7 148.9,341.7 151.4,340.8 152.8,338.9" fill="none" stroke="#8038a8" stroke-width="0.6" stroke-linejoin="round" opacity="0.8"/>
<polyline points="165.2,334.8 166.2,336.9 164.4,338.2 165.1,340.2 163.6,340.9 162.9,343.6 160.4,343.5 159.0,345.1" fill="none" stroke="#8038a8" stroke-width="1.15" stroke-linejoin="round" opacity="0.85"/>
<polyline points="165.9,335.4 166.3,337.3 165.1,338.8 165.4,340.6 164.2,341.6 163.1,343.6 161.0,344.1 159.5,345.6" fill="none" stroke="#4a5fc0" stroke-width="0.6" stroke-linejoin="round" opacity="0.8"/>
<polyline points="497.6,291.5 497.1,293.8 495.4,294.5 494.0,296.3 492.0,294.9 491.0,296.5 488.7,296.5 488.5,298.6 486.7,299.0 486.6,301.2 484.5,301.3 484.0,303.3 481.6,303.5 480.9,305.5 479.1,306.7 479.7,308.8 478.2,310.1 478.7,312.4 476.6,313.5 477.1,315.3 476.0,317.4 477.7,319.2 476.3,321.6 478.3,322.5 477.8,324.4 479.3,325.5 478.7,327.5 480.6,328.7 480.1,330.7 481.5,331.4 483.0,333.9 485.6,333.5 486.7,335.6 489.1,334.9 489.9,336.4 491.0,338.1 490.3,339.2 489.1,341.3 486.9,340.4 485.2,342.0 483.9,340.5 481.9,340.8 480.4,339.8" fill="none" stroke="#d07a28" stroke-width="1.15" stroke-linejoin="round" opacity="0.85"/>
<polyline points="498.1,292.0 497.8,294.4 495.9,295.4 494.4,296.3 492.6,295.6 491.5,297.0 489.4,297.1 489.0,299.0 487.3,299.6 486.9,301.5 485.0,301.8 484.6,303.8 482.3,304.2 481.2,305.9 479.9,307.3 480.3,309.3 478.6,310.5 478.8,312.7 477.1,314.0 477.2,315.8 476.5,317.9 477.7,319.8 476.9,322.0 478.5,323.1 478.3,325.0 480.0,326.0 479.4,327.9 480.9,329.2 480.5,331.3 481.9,332.1 483.7,333.9 486.1,334.0 487.4,335.6 489.4,335.8 490.3,336.9 491.5,338.6 490.8,339.7 489.4,341.2 487.5,341.1 485.7,342.6 484.4,340.8 482.3,341.5 480.9,340.3" fill="none" stroke="#b8321e" stroke-width="0.6" stroke-linejoin="round" opacity="0.8"/>
<polyline points="498.1,291.1 499.8,292.8 498.5,294.9 500.0,296.7 499.0,298.7 500.5,300.2 499.6,302.0 501.0,303.6 499.8,305.4 501.3,307.1 499.6,308.6 500.5,310.5 499.0,311.9 500.0,313.9 498.1,314.9 498.5,317.6 495.9,318.2 496.2,321.0 494.0,321.3 494.1,323.6 491.9,323.9 491.7,325.8 489.6,326.8 489.8,329.3 487.5,330.1 487.3,332.7 485.4,333.9" fill="none" stroke="#8038a8" stroke-width="1.15" stroke-linejoin="round" opacity="0.85"/>
<polyline points="499.0,291.5 500.3,293.3 499.3,295.4 500.5,297.1 499.7,299.2 501.0,300.7 499.9,302.5 501.2,304.1 500.4,305.9 501.6,307.6 500.4,309.1 500.9,311.0 499.5,312.4 500.3,314.3 499.1,315.7 498.8,317.9 496.8,319.0 496.5,321.3 494.6,321.9 494.2,323.7 492.4,324.4 492.3,326.4 490.3,327.4 490.1,329.7 488.0,330.6 487.6,333.0 485.9,334.4" fill="none" stroke="#a03490" stroke-width="0.6" stroke-linejoin="round" opacity="0.8"/>
<polyline points="523.6,284.5 525.6,286.1 525.3,288.1 525.1,290.5 522.6,291.5 523.3,293.9 521.0,294.9 521.2,297.2 519.2,298.3 519.1,300.6 516.6,301.8 517.7,303.7 516.5,305.2 517.4,307.1 516.0,308.8 517.3,310.3 516.4,312.1 517.6,312.8 518.9,314.8 521.0,313.7 522.2,315.8 524.4,314.6 525.5,316.9 527.7,315.9 529.2,317.1" fill="none" stroke="#8038a8" stroke-width="1.15" stroke-linejoin="round" opacity="0.85"/>
<polyline points="524.1,285.0 525.8,286.8 525.8,288.6 525.4,290.9 523.4,292.1 523.6,294.3 521.8,295.5 521.6,297.6 519.6,298.7 519.5,301.0 517.6,302.4 518.0,304.1 517.1,305.7 517.6,307.5 516.5,309.3 517.7,310.8 517.2,312.6 518.0,313.8 519.5,315.1 521.4,314.6 522.8,316.0 524.8,315.4 526.1,316.9 528.1,316.7 529.7,317.6" fill="none" stroke="#4a5fc0" stroke-width="0.6" stroke-linejoin="round" opacity="0.8"/>
<polyline points="491.0,338.1 491.5,335.8 493.5,336.0 494.4,334.2 496.5,334.6 497.0,332.2 499.1,332.6 500.4,331.1 502.5,331.5 503.7,329.6 506.0,330.3 507.0,328.0 509.2,328.7 510.4,326.9 512.6,327.5 513.7,325.3 515.9,326.0 517.2,324.4 519.2,325.0 520.5,323.3 522.5,323.9 523.7,322.2 526.1,322.8 527.2,320.6 529.5,320.8 530.6,318.8 532.9,318.8 534.0,316.2 536.1,317.4 537.5,315.7 539.5,316.8 540.8,314.6 543.2,315.6 545.0,314.5" fill="none" stroke="#8038a8" stroke-width="1.15" stroke-linejoin="round" opacity="0.85"/>
<polyline points="491.2,338.1 492.2,336.6 494.1,336.7 495.0,334.9 496.9,334.8 497.7,333.1 499.6,333.1 500.9,331.5 503.0,332.0 504.2,330.1 506.3,330.5 507.7,328.9 509.6,328.9 511.0,327.5 513.0,327.7 514.4,326.3 516.4,326.6 517.8,325.1 519.7,325.6 521.0,323.9 523.0,324.3 524.3,322.9 526.5,323.0 527.8,321.4 529.9,321.2 531.2,319.5 533.3,319.1 534.6,317.2 536.6,317.8 537.9,316.1 539.9,316.6 541.4,315.5 543.6,315.9 545.5,315.0" fill="none" stroke="#a03490" stroke-width="0.6" stroke-linejoin="round" opacity="0.8"/>
<polyline points="527.3,322.6 529.8,322.4 531.5,324.3 533.5,323.7 534.4,325.6 536.3,325.2 537.5,326.8 539.7,325.9 541.4,327.6 543.7,326.7 544.9,328.6 547.0,327.9 548.2,329.8 550.5,329.0 551.7,330.8 553.8,330.2 555.0,332.2 557.2,331.6 558.3,333.7 560.6,333.2 561.7,335.3 564.1,335.4 564.1,337.7 566.7,338.4 566.3,340.8 568.3,342.1 567.6,344.2 568.7,345.7" fill="none" stroke="#d07a28" stroke-width="1.15" stroke-linejoin="round" opacity="0.85"/>
<polyline points="527.8,323.2 530.3,322.9 532.0,324.7 533.9,324.3 534.9,326.2 536.8,325.8 538.0,327.5 540.1,326.6 542.0,327.8 544.2,327.2 545.5,328.7 547.6,328.4 548.8,330.1 550.8,329.9 552.2,331.3 554.3,330.9 555.6,332.5 557.6,332.2 558.8,334.1 561.0,334.0 562.3,335.7 564.6,335.8 564.8,338.1 566.7,339.2 567.2,341.2 568.6,342.6 568.1,344.7 569.2,346.2" fill="none" stroke="#b8321e" stroke-width="0.6" stroke-linejoin="round" opacity="0.8"/>
<polyline points="570.6,281.8 572.3,283.3 570.7,285.2 572.6,286.7 571.1,288.4 572.8,290.3 570.8,291.7 572.0,293.6 570.8,295.3 572.2,296.8 570.8,298.7 572.5,300.1 572.1,301.9" fill="none" stroke="#1f6a60" stroke-width="1.15" stroke-linejoin="round" opacity="0.85"/>
<polyline points="571.2,282.3 572.4,283.8 571.8,285.7 572.9,287.2 572.1,288.9 572.8,290.7 571.8,292.3 572.4,294.1 571.3,295.8 572.5,297.3 571.8,299.1 572.8,300.7 572.6,302.4" fill="none" stroke="#1f6a2a" stroke-width="0.6" stroke-linejoin="round" opacity="0.8"/>
<polyline points="569.9,291.7 570.6,293.7 568.8,295.0 569.6,297.0 568.4,298.3 568.0,300.5 565.8,301.2 565.5,303.4 563.5,303.9 562.2,305.7 560.0,305.5 559.0,307.8 556.5,307.0 555.5,309.3 553.2,309.0 552.0,310.8 549.9,310.7 548.7,312.6 546.5,312.0 545.3,314.0 543.1,313.3 542.0,315.5 539.8,314.9 538.7,316.7 536.3,316.2 535.3,318.3 533.0,318.1 532.0,320.2 530.0,320.4" fill="none" stroke="#8038a8" stroke-width="1.15" stroke-linejoin="round" opacity="0.85"/>
<polyline points="570.5,292.2 570.9,294.1 569.4,295.5 570.2,297.5 568.8,298.7 568.5,301.0 566.4,301.8 565.9,303.8 563.9,304.4 562.7,306.1 560.6,306.2 559.4,308.1 557.2,308.0 556.0,309.7 553.9,309.7 552.6,311.4 550.5,311.4 549.2,313.0 547.1,313.0 545.9,314.7 543.7,314.2 542.4,315.8 540.4,315.5 539.1,317.1 536.9,317.0 535.7,318.7 533.6,318.8 532.4,320.5 530.5,320.9" fill="none" stroke="#4a5fc0" stroke-width="0.6" stroke-linejoin="round" opacity="0.8"/>
<polyline points="565.4,311.8 566.9,310.4 568.8,311.0 570.2,309.4 572.1,310.4 573.6,308.7 575.5,310.0 577.0,308.2 578.9,309.8 580.3,307.9 582.4,308.8 583.7,307.2 585.8,307.8 587.0,305.8 588.7,307.0 590.7,305.9 592.2,307.3 594.1,306.2 595.5,308.3 597.7,307.2 598.3,309.3 600.4,309.0 601.5,310.3" fill="none" stroke="#1f6a2a" stroke-width="1.15" stroke-linejoin="round" opacity="0.85"/>
<polyline points="565.9,312.2 567.4,310.8 569.3,311.6 570.8,310.3 572.6,310.7 574.1,309.5 576.0,310.4 577.6,309.2 579.3,309.7 580.9,308.9 582.9,309.3 584.2,307.7 586.2,308.1 587.5,306.5 589.3,307.1 591.2,306.5 592.6,307.8 594.5,307.3 596.0,308.4 598.1,307.8 599.0,309.4 600.8,309.7 602.0,310.8" fill="none" stroke="#c8b850" stroke-width="0.6" stroke-linejoin="round" opacity="0.8"/>
<polyline points="541.8,316.1 543.5,314.8 545.2,316.4 546.8,314.9 548.5,316.3 550.3,314.8 551.8,316.4 553.6,315.1 555.2,316.7 557.0,315.4 558.4,316.7 560.6,316.4 561.6,318.7 563.9,318.2 565.7,320.0 566.1,317.7 568.2,317.0 568.7,314.8 570.6,314.4 571.9,312.6 573.9,313.6 575.3,311.9 577.0,312.4 578.9,312.0 580.3,313.4 582.3,312.8 583.5,314.4 585.8,314.0 586.8,316.2 589.2,315.6 590.2,317.8 592.7,317.5 593.5,319.9 596.2,320.0 597.3,323.0" fill="none" stroke="#d07a28" stroke-width="1.15" stroke-linejoin="round" opacity="0.85"/>
<polyline points="542.3,316.3 544.0,315.6 545.7,316.5 547.3,315.4 549.0,316.2 550.8,315.2 552.3,316.6 554.1,315.7 555.7,316.9 557.5,316.2 558.8,317.3 560.9,317.2 562.2,318.8 564.4,318.6 566.1,320.3 566.7,318.3 568.7,317.5 569.3,315.4 571.1,314.8 572.5,313.3 574.3,313.6 575.8,312.5 577.5,312.8 579.4,312.4 580.8,314.0 582.8,313.1 584.2,314.5 586.3,314.5 587.5,316.3 589.6,316.3 590.9,318.0 593.0,318.3 594.2,320.1 596.6,320.6 597.8,323.5" fill="none" stroke="#b8321e" stroke-width="0.6" stroke-linejoin="round" opacity="0.8"/>
<polyline points="492.1,339.8 491.9,342.0 489.7,342.2 489.5,344.4 487.2,344.5 486.8,346.4 484.7,347.2 485.0,349.5 482.7,350.2 483.1,352.3 481.4,353.7 482.4,355.5 480.9,357.0 482.2,358.8 480.4,360.5 482.1,362.2 481.6,364.4 482.8,365.6 483.4,368.1 485.8,367.8 486.4,370.0 488.7,369.7 490.1,371.9 492.4,372.4" fill="none" stroke="#6a1414" stroke-width="1.15" stroke-linejoin="round" opacity="0.85"/>
<polyline points="492.6,340.3 492.1,342.2 490.3,342.8 489.6,344.5 487.7,345.0 487.2,346.8 485.5,347.9 485.2,349.9 483.5,350.9 483.5,352.8 482.1,354.2 483.1,356.0 481.8,357.5 482.4,359.2 481.4,360.9 482.5,362.7 482.1,364.9 483.2,366.4 484.1,368.3 486.1,368.5 487.2,370.1 489.1,370.5 490.7,372.2 492.9,372.9" fill="none" stroke="#b8321e" stroke-width="0.6" stroke-linejoin="round" opacity="0.8"/>
<polyline points="442.4,364.6 444.3,365.5 443.7,367.7 445.9,368.5 445.8,370.9 447.7,370.2 448.9,371.8 450.8,371.1 451.8,373.2 453.9,372.4 455.1,374.4 457.2,373.7 458.4,375.3 460.4,374.9 461.6,376.5 463.7,375.9 464.7,377.9 466.9,377.0 468.1,378.9 470.0,378.0 471.3,379.9 473.2,379.0 474.5,380.7 476.2,379.7 478.4,380.6 480.3,379.1 482.9,380.0 483.2,377.7 485.6,378.1 486.0,376.0 488.4,375.7 488.5,373.1 490.4,372.4" fill="none" stroke="#b8321e" stroke-width="1.15" stroke-linejoin="round" opacity="0.85"/>
<polyline points="443.0,365.1 444.9,366.0 444.7,368.0 446.3,369.0 446.3,371.4 448.1,371.0 449.4,372.4 451.3,371.7 452.5,373.3 454.4,372.9 455.6,374.7 457.6,374.3 459.0,375.6 460.8,375.5 462.1,377.1 464.1,376.7 465.4,378.1 467.3,377.9 468.5,379.6 470.4,378.9 471.9,380.0 473.7,379.4 475.1,380.9 476.7,380.5 478.9,381.2 480.8,379.8 483.1,380.2 483.8,378.4 485.8,378.2 486.6,376.6 488.7,376.0 489.3,374.0 490.9,372.9" fill="none" stroke="#c8b850" stroke-width="0.6" stroke-linejoin="round" opacity="0.8"/>
<polyline points="569.0,348.1 570.3,350.2 568.9,352.1 569.8,354.2 568.6,355.6 568.1,358.2 565.5,358.8 565.4,361.2 563.2,362.0 563.2,364.5 560.5,364.9 560.8,367.6 558.2,368.1 558.1,370.5 556.1,371.5 556.2,373.7 554.4,374.9 554.7,377.2 553.0,378.4" fill="none" stroke="#8038a8" stroke-width="1.15" stroke-linejoin="round" opacity="0.85"/>
<polyline points="569.7,348.6 570.9,350.7 569.5,352.6 570.1,354.7 569.3,356.3 568.3,358.4 566.0,359.3 565.7,361.5 563.8,362.6 563.5,364.8 561.5,365.8 561.2,368.0 559.1,368.9 558.7,371.1 556.8,372.1 556.8,374.3 554.9,375.4 554.8,377.5 553.5,378.9" fill="none" stroke="#6a1414" stroke-width="0.6" stroke-linejoin="round" opacity="0.8"/>
<polyline points="565.8,360.0 567.8,358.9 569.0,360.6 570.8,360.0 572.1,361.6 573.9,360.8 575.4,361.6" fill="none" stroke="#8038a8" stroke-width="1.15" stroke-linejoin="round" opacity="0.85"/>
<polyline points="566.3,360.3 568.2,359.7 569.5,360.9 571.3,360.6 572.7,361.7 574.4,361.3 575.9,362.1" fill="none" stroke="#6a1414" stroke-width="0.6" stroke-linejoin="round" opacity="0.8"/>
<polyline points="539.1,385.2 540.2,383.2 542.4,383.7 543.6,381.9 545.8,382.4 546.9,380.3 548.9,380.4" fill="none" stroke="#b8321e" stroke-width="1.15" stroke-linejoin="round" opacity="0.85"/>
<polyline points="539.5,385.4 540.8,383.8 542.9,384.1 544.2,382.6 546.2,382.6 547.5,381.0 549.4,380.9" fill="none" stroke="#d07a28" stroke-width="0.6" stroke-linejoin="round" opacity="0.8"/>
<polyline points="492.2,372.8 494.2,372.9 495.5,374.4 497.5,374.3 498.7,375.9 500.7,376.1 501.5,377.9 503.1,378.6 503.9,380.3 505.7,380.9 506.3,382.7 508.2,383.3 509.1,385.1 511.0,385.6 511.8,387.4 513.6,387.9 515.0,389.3 517.0,389.2 518.5,390.6 520.4,390.0 522.1,391.1 523.9,390.7 526.1,391.0 527.9,389.6 530.1,390.2 531.5,388.8 533.3,389.4 534.7,388.3 536.5,388.1 537.7,386.8 539.5,386.7 540.6,385.2 542.5,385.2 543.6,383.5 545.6,383.7 546.6,382.0 548.7,381.8 549.7,380.1 551.6,379.6 553.0,378.4" fill="none" stroke="#c9d77a" stroke-width="0.9" opacity="0.9"/>
<circle cx="222.6" cy="359.4" r="4.2" fill="none" stroke="#a03aa8" stroke-width="1.2"/>
<linearGradient id="gCL" x1="0" y1="0" x2="0.2" y2="1"><stop offset="0" stop-color="#9b6663"/><stop offset="0.45" stop-color="#905e5c"/><stop offset="1" stop-color="#7a4c4a"/></linearGradient>
<filter id="bl1"><feGaussianBlur stdDeviation="1.2"/></filter>
<filter id="bl05"><feGaussianBlur stdDeviation="0.5"/></filter>
<clipPath id="cCL"><path d="M100.9 380.6 C98.6 381.1 96.2 381.9 93.9 383.3 C91.6 384.7 88.7 386.6 87.0 388.9 C85.3 391.2 83.7 394.3 83.5 397.3 C83.3 400.3 84.1 404.0 85.6 407.0 C87.1 410.0 89.7 412.5 92.5 415.3 C95.3 418.1 99.0 421.2 102.3 423.7 C105.5 426.1 108.8 428.4 112.0 430.0 C115.2 431.6 118.7 432.7 121.7 433.4 C124.7 434.1 127.3 434.3 130.1 434.1 C132.9 433.9 135.8 433.3 138.4 432.0 C141.0 430.7 143.5 428.6 145.4 426.5 C147.3 424.4 148.4 421.8 149.6 419.5 C150.8 417.2 151.7 414.5 152.3 412.6 C152.9 410.8 153.1 409.6 153.0 408.4 C152.9 407.2 151.4 407.0 151.5 405.6 C151.6 404.2 153.6 401.6 153.7 400.0 C153.8 398.4 153.7 397.5 152.3 395.9 C150.9 394.3 148.2 391.9 145.4 390.3 C142.6 388.7 139.6 387.5 135.7 386.1 C131.8 384.7 126.3 382.9 121.7 382.0 C117.1 381.1 111.3 380.8 107.8 380.6 C104.3 380.4 103.2 380.2 100.9 380.6Z"/></clipPath>
<clipPath id="cCR"><path d="M575.5 362.5 C573.4 362.8 570.4 363.8 568.3 365.2 C566.2 366.6 564.7 368.2 562.9 370.6 C561.1 373.0 559.5 376.5 557.6 379.5 C555.7 382.5 552.6 385.5 551.3 388.5 C549.9 391.5 549.4 394.2 549.5 397.5 C549.6 400.8 551.6 405.2 552.2 408.2 C552.8 411.2 551.9 413.0 553.1 415.4 C554.3 417.8 556.8 420.2 559.3 422.6 C561.8 425.0 565.0 427.8 568.3 429.7 C571.6 431.6 575.8 433.4 579.1 434.2 C582.4 434.9 585.0 434.8 588.0 434.2 C591.0 433.6 594.3 431.9 597.0 430.6 C599.7 429.3 601.5 427.8 604.2 426.2 C606.9 424.6 610.5 423.2 613.2 420.8 C615.9 418.4 618.8 415.1 620.3 411.8 C621.8 408.5 622.2 404.3 622.1 401.0 C622.0 397.7 621.2 394.5 619.4 392.1 C617.6 389.7 613.9 387.9 611.4 386.7 C608.9 385.5 606.3 386.1 604.2 384.9 C602.1 383.7 600.6 381.6 598.8 379.5 C597.0 377.4 595.5 374.5 593.4 372.3 C591.3 370.1 588.4 367.6 586.3 366.1 C584.2 364.6 582.7 364.0 580.9 363.4 C579.1 362.8 577.6 362.2 575.5 362.5Z"/></clipPath>
<path d="M100.9 380.6 C98.6 381.1 96.2 381.9 93.9 383.3 C91.6 384.7 88.7 386.6 87.0 388.9 C85.3 391.2 83.7 394.3 83.5 397.3 C83.3 400.3 84.1 404.0 85.6 407.0 C87.1 410.0 89.7 412.5 92.5 415.3 C95.3 418.1 99.0 421.2 102.3 423.7 C105.5 426.1 108.8 428.4 112.0 430.0 C115.2 431.6 118.7 432.7 121.7 433.4 C124.7 434.1 127.3 434.3 130.1 434.1 C132.9 433.9 135.8 433.3 138.4 432.0 C141.0 430.7 143.5 428.6 145.4 426.5 C147.3 424.4 148.4 421.8 149.6 419.5 C150.8 417.2 151.7 414.5 152.3 412.6 C152.9 410.8 153.1 409.6 153.0 408.4 C152.9 407.2 151.4 407.0 151.5 405.6 C151.6 404.2 153.6 401.6 153.7 400.0 C153.8 398.4 153.7 397.5 152.3 395.9 C150.9 394.3 148.2 391.9 145.4 390.3 C142.6 388.7 139.6 387.5 135.7 386.1 C131.8 384.7 126.3 382.9 121.7 382.0 C117.1 381.1 111.3 380.8 107.8 380.6 C104.3 380.4 103.2 380.2 100.9 380.6Z" fill="url(#gCL)"/>
<g clip-path="url(#cCL)">
<ellipse cx="116" cy="399" rx="16" ry="5" transform="rotate(14 116 399)" fill="#b08280" opacity="0.55" filter="url(#bl1)"/>
<ellipse cx="113" cy="387.5" rx="9" ry="2.2" transform="rotate(10 113 387.5)" fill="#b08280" opacity="0.5" filter="url(#bl1)"/>
<ellipse cx="140" cy="412" rx="10" ry="3" transform="rotate(-10 140 412)" fill="#a07270" opacity="0.4" filter="url(#bl1)"/>
<path d="M84 397 Q98 402 112 405 Q132 409 152 406" fill="none" stroke="#6a3e3c" stroke-width="1.1" opacity="0.55" filter="url(#bl05)"/>
<path d="M90 409 Q110 417 128 419 Q142 419 151 412" fill="none" stroke="#6a3e3c" stroke-width="1.0" opacity="0.5" filter="url(#bl05)"/>
<path d="M104 421 Q124 428 140 425 Q146 423 149 418" fill="none" stroke="#6a3e3c" stroke-width="0.9" opacity="0.5" filter="url(#bl05)"/>
<path d="M116 429 Q132 431 145 424" fill="none" stroke="#6a3e3c" stroke-width="0.8" opacity="0.45" filter="url(#bl05)"/>
<path d="M140 398 Q148 401 152 406" fill="none" stroke="#6a3e3c" stroke-width="1" opacity="0.5" filter="url(#bl05)"/>
<ellipse cx="122" cy="412" rx="14" ry="2.5" transform="rotate(8 122 412)" fill="#a87876" opacity="0.45" filter="url(#bl1)"/>
</g>
<linearGradient id="gCR" x1="0" y1="0" x2="0.3" y2="1"><stop offset="0" stop-color="#98625f"/><stop offset="0.5" stop-color="#8a5856"/><stop offset="1" stop-color="#764a48"/></linearGradient>
<path d="M575.5 362.5 C573.4 362.8 570.4 363.8 568.3 365.2 C566.2 366.6 564.7 368.2 562.9 370.6 C561.1 373.0 559.5 376.5 557.6 379.5 C555.7 382.5 552.6 385.5 551.3 388.5 C549.9 391.5 549.4 394.2 549.5 397.5 C549.6 400.8 551.6 405.2 552.2 408.2 C552.8 411.2 551.9 413.0 553.1 415.4 C554.3 417.8 556.8 420.2 559.3 422.6 C561.8 425.0 565.0 427.8 568.3 429.7 C571.6 431.6 575.8 433.4 579.1 434.2 C582.4 434.9 585.0 434.8 588.0 434.2 C591.0 433.6 594.3 431.9 597.0 430.6 C599.7 429.3 601.5 427.8 604.2 426.2 C606.9 424.6 610.5 423.2 613.2 420.8 C615.9 418.4 618.8 415.1 620.3 411.8 C621.8 408.5 622.2 404.3 622.1 401.0 C622.0 397.7 621.2 394.5 619.4 392.1 C617.6 389.7 613.9 387.9 611.4 386.7 C608.9 385.5 606.3 386.1 604.2 384.9 C602.1 383.7 600.6 381.6 598.8 379.5 C597.0 377.4 595.5 374.5 593.4 372.3 C591.3 370.1 588.4 367.6 586.3 366.1 C584.2 364.6 582.7 364.0 580.9 363.4 C579.1 362.8 577.6 362.2 575.5 362.5Z" fill="url(#gCR)"/>
<radialGradient id="lobe" cx="0.42" cy="0.38" r="0.6"><stop offset="0" stop-color="#a47270"/><stop offset="0.6" stop-color="#93615e"/><stop offset="1" stop-color="#764a48"/></radialGradient>
<g clip-path="url(#cCR)">
<rect x="545" y="360" width="80" height="80" fill="#82544f"/>
<ellipse cx="560.4" cy="407.8" rx="9" ry="18" transform="rotate(0 560.4 407.8)" fill="url(#lobe)" stroke="#5e3836" stroke-width="0.6" stroke-opacity="0.45"/>
<ellipse cx="556.9" cy="413" rx="5" ry="4.5" transform="rotate(0 556.9 413)" fill="url(#lobe)" stroke="#5e3836" stroke-width="0.6" stroke-opacity="0.45"/>
<ellipse cx="570.6" cy="378.8" rx="7.5" ry="13.5" transform="rotate(-15 570.6 378.8)" fill="url(#lobe)" stroke="#5e3836" stroke-width="0.6" stroke-opacity="0.45"/>
<ellipse cx="584.2" cy="377.5" rx="6.5" ry="12.5" transform="rotate(5 584.2 377.5)" fill="url(#lobe)" stroke="#5e3836" stroke-width="0.6" stroke-opacity="0.45"/>
<ellipse cx="598.7" cy="384.5" rx="8" ry="10.5" transform="rotate(20 598.7 384.5)" fill="url(#lobe)" stroke="#5e3836" stroke-width="0.6" stroke-opacity="0.45"/>
<ellipse cx="611.5" cy="402.6" rx="9" ry="15" transform="rotate(10 611.5 402.6)" fill="url(#lobe)" stroke="#5e3836" stroke-width="0.6" stroke-opacity="0.45"/>
<ellipse cx="597.9" cy="418" rx="10" ry="12.5" transform="rotate(0 597.9 418)" fill="url(#lobe)" stroke="#5e3836" stroke-width="0.6" stroke-opacity="0.45"/>
<ellipse cx="578.3" cy="414" rx="9.5" ry="15" transform="rotate(0 578.3 414)" fill="url(#lobe)" stroke="#5e3836" stroke-width="0.6" stroke-opacity="0.45"/>
<ellipse cx="587" cy="398" rx="12" ry="5" fill="#6a4240" opacity="0.7" filter="url(#bl1)"/>
<path d="M555 396 Q575 388 590 390 Q608 392 620 398" fill="none" stroke="#8e5c5a" stroke-width="3" opacity="0.8" filter="url(#bl05)"/>
<path d="M590 405 L592 432 M594 405 L597 430 M600 404 L604 428" stroke="#62403e" stroke-width="0.6" opacity="0.6"/>
<ellipse cx="577.5" cy="372" rx="1.6" ry="6" transform="rotate(-5 577.5 372)" fill="#c9a09e" opacity="0.5" filter="url(#bl05)"/>
<ellipse cx="573" cy="382" rx="1.5" ry="4" transform="rotate(-15 573 382)" fill="#c9a09e" opacity="0.35" filter="url(#bl05)"/>
<ellipse cx="600" cy="379" rx="2" ry="4" transform="rotate(25 600 379)" fill="#c9a09e" opacity="0.4" filter="url(#bl05)"/>
<ellipse cx="610.5" cy="399" rx="1.8" ry="5" transform="rotate(15 610.5 399)" fill="#c9a09e" opacity="0.5" filter="url(#bl05)"/>
<ellipse cx="578" cy="408" rx="2" ry="5" transform="rotate(0 578 408)" fill="#c9a09e" opacity="0.4" filter="url(#bl05)"/>
<ellipse cx="561" cy="401" rx="1.5" ry="5" transform="rotate(-10 561 401)" fill="#c9a09e" opacity="0.3" filter="url(#bl05)"/>
<ellipse cx="597" cy="412" rx="2" ry="4" transform="rotate(0 597 412)" fill="#c9a09e" opacity="0.3" filter="url(#bl05)"/>
</g>

<rect x="0.5" y="0.5" width="211" height="246" fill="none" stroke="#222" stroke-width="1"/>
<rect x="217.5" y="0.5" width="467" height="246" fill="none" stroke="#222" stroke-width="1"/>
<path d="M1 253.5 H684.5 V445.5 H1" fill="none" stroke="#222" stroke-width="1"/>
<rect x="0" y="253" width="2" height="193" fill="#8a8a8a"/>
<text x="7.40" y="16.1" font-size="12.5" textLength="9.39" lengthAdjust="spacingAndGlyphs" fill="#111111" >a.</text>
<text x="52.50" y="24.1" font-size="14.3" textLength="106.41" lengthAdjust="spacingAndGlyphs" fill="#111111" >System Diversity</text>
<text x="93.00" y="43.7" font-size="14.3" textLength="26.00" lengthAdjust="spacingAndGlyphs" fill="#111111" >(SD)</text>
<text x="8.70" y="65.8" font-size="9.6" textLength="16.91" lengthAdjust="spacingAndGlyphs" fill="#111111" >1,81</text>
<text x="8.70" y="88.8" font-size="9.6" textLength="16.91" lengthAdjust="spacingAndGlyphs" fill="#111111" >1,79</text>
<text x="8.70" y="111.8" font-size="9.6" textLength="16.91" lengthAdjust="spacingAndGlyphs" fill="#111111" >1,78</text>
<text x="8.70" y="134.8" font-size="9.6" textLength="16.91" lengthAdjust="spacingAndGlyphs" fill="#111111" >1,77</text>
<text x="8.70" y="157.8" font-size="9.6" textLength="16.91" lengthAdjust="spacingAndGlyphs" fill="#111111" >1,76</text>
<text x="8.70" y="180.8" font-size="9.6" textLength="16.91" lengthAdjust="spacingAndGlyphs" fill="#111111" >1,74</text>
<text x="8.70" y="203.8" font-size="9.6" textLength="16.91" lengthAdjust="spacingAndGlyphs" fill="#111111" >1,73</text>
<rect x="57.2" y="85.2" width="38.8" height="115.3" fill="#a4c2f4"/>
<rect x="138.8" y="162.3" width="38.6" height="38.2" fill="#f0cc8c"/>
<path d="M36.5 241 V200.5 H198.5 V241" fill="none" stroke="#d9d9d9" stroke-width="1"/>
<text x="73.00" y="217.8" font-size="9.5" textLength="7.68" lengthAdjust="spacingAndGlyphs" fill="#111111" >M</text>
<text x="155.60" y="217.8" font-size="9.5" textLength="5.61" lengthAdjust="spacingAndGlyphs" fill="#111111" >T</text>
<text x="103.90" y="237.7" font-size="9.5" textLength="27.11" lengthAdjust="spacingAndGlyphs" fill="#111111" >Global</text>
<path d="M54.4 82.6 L54.4 79.8 Q54.4 78.6 55.6 78.6 L179.20000000000002 78.6 Q180.4 78.6 180.4 79.8 L180.4 82.6" fill="none" stroke="#111" stroke-width="1.3" stroke-linecap="round"/>
<line x1="118.50" y1="69.15" x2="118.50" y2="73.85" stroke="#111" stroke-width="1.1" stroke-linecap="round"/>
<line x1="116.46" y1="70.33" x2="120.54" y2="72.67" stroke="#111" stroke-width="1.1" stroke-linecap="round"/>
<line x1="116.46" y1="72.67" x2="120.54" y2="70.33" stroke="#111" stroke-width="1.1" stroke-linecap="round"/>
<text x="226.40" y="16.0" font-size="12.5" textLength="9.69" lengthAdjust="spacingAndGlyphs" fill="#111111" >b.</text>
<text x="397.80" y="24.0" font-size="14.3" textLength="106.51" lengthAdjust="spacingAndGlyphs" fill="#111111" >System Diversity</text>
<text x="438.00" y="43.7" font-size="14.3" textLength="26.00" lengthAdjust="spacingAndGlyphs" fill="#111111" >(SD)</text>
<text x="225.60" y="65.9" font-size="9.6" textLength="17.91" lengthAdjust="spacingAndGlyphs" fill="#111111" >2,10</text>
<text x="225.60" y="88.9" font-size="9.6" textLength="17.91" lengthAdjust="spacingAndGlyphs" fill="#111111" >2,05</text>
<text x="225.60" y="111.9" font-size="9.6" textLength="17.91" lengthAdjust="spacingAndGlyphs" fill="#111111" >2,00</text>
<text x="225.60" y="134.9" font-size="9.6" textLength="17.91" lengthAdjust="spacingAndGlyphs" fill="#111111" >1,95</text>
<text x="225.60" y="157.9" font-size="9.6" textLength="17.91" lengthAdjust="spacingAndGlyphs" fill="#111111" >1,90</text>
<text x="225.60" y="180.9" font-size="9.6" textLength="17.91" lengthAdjust="spacingAndGlyphs" fill="#111111" >1,85</text>
<text x="225.60" y="203.9" font-size="9.6" textLength="17.91" lengthAdjust="spacingAndGlyphs" fill="#111111" >1,80</text>
<rect x="258.85" y="156.4" width="15.3" height="44.10" fill="#343a36"/>
<text x="262.15" y="217.7" font-size="9.5" textLength="7.88" lengthAdjust="spacingAndGlyphs" fill="#111111" >M</text>
<rect x="285.00" y="143.2" width="15.3" height="57.30" fill="#343a36"/>
<text x="290.05" y="217.7" font-size="9.5" textLength="5.21" lengthAdjust="spacingAndGlyphs" fill="#111111" >T</text>
<rect x="311.15" y="94.8" width="15.3" height="105.70" fill="#7496b4"/>
<text x="314.45" y="217.7" font-size="9.5" textLength="7.88" lengthAdjust="spacingAndGlyphs" fill="#111111" >M</text>
<rect x="337.30" y="95.2" width="15.3" height="105.30" fill="#7496b4"/>
<text x="342.35" y="217.7" font-size="9.5" textLength="5.21" lengthAdjust="spacingAndGlyphs" fill="#111111" >T</text>
<rect x="363.45" y="77.2" width="15.3" height="123.30" fill="#4a8b52"/>
<text x="366.75" y="217.7" font-size="9.5" textLength="7.88" lengthAdjust="spacingAndGlyphs" fill="#111111" >M</text>
<rect x="389.60" y="83.4" width="15.3" height="117.10" fill="#4a8b52"/>
<text x="394.65" y="217.7" font-size="9.5" textLength="5.21" lengthAdjust="spacingAndGlyphs" fill="#111111" >T</text>
<rect x="415.75" y="84.3" width="15.3" height="116.20" fill="#b673e0"/>
<text x="419.05" y="217.7" font-size="9.5" textLength="7.88" lengthAdjust="spacingAndGlyphs" fill="#111111" >M</text>
<rect x="441.90" y="88.3" width="15.3" height="112.20" fill="#b673e0"/>
<text x="446.95" y="217.7" font-size="9.5" textLength="5.21" lengthAdjust="spacingAndGlyphs" fill="#111111" >T</text>
<rect x="468.05" y="110.1" width="15.3" height="90.40" fill="#bfcba0"/>
<text x="471.35" y="217.7" font-size="9.5" textLength="7.88" lengthAdjust="spacingAndGlyphs" fill="#111111" >M</text>
<rect x="494.20" y="116.4" width="15.3" height="84.10" fill="#bfcba0"/>
<text x="499.25" y="217.7" font-size="9.5" textLength="5.21" lengthAdjust="spacingAndGlyphs" fill="#111111" >T</text>
<rect x="520.35" y="79.0" width="15.3" height="121.50" fill="#f0b866"/>
<text x="523.65" y="217.7" font-size="9.5" textLength="7.88" lengthAdjust="spacingAndGlyphs" fill="#111111" >M</text>
<rect x="546.50" y="82.1" width="15.3" height="118.40" fill="#f0b866"/>
<text x="551.55" y="217.7" font-size="9.5" textLength="5.21" lengthAdjust="spacingAndGlyphs" fill="#111111" >T</text>
<rect x="572.65" y="90.0" width="15.3" height="110.50" fill="#d4707a"/>
<text x="575.95" y="217.7" font-size="9.5" textLength="7.88" lengthAdjust="spacingAndGlyphs" fill="#111111" >M</text>
<rect x="598.80" y="91.4" width="15.3" height="109.10" fill="#d4707a"/>
<text x="603.85" y="217.7" font-size="9.5" textLength="5.21" lengthAdjust="spacingAndGlyphs" fill="#111111" >T</text>
<rect x="624.95" y="94.0" width="15.3" height="106.50" fill="#d46443"/>
<text x="628.25" y="217.7" font-size="9.5" textLength="7.88" lengthAdjust="spacingAndGlyphs" fill="#111111" >M</text>
<rect x="651.10" y="123.8" width="15.3" height="76.70" fill="#d46443"/>
<text x="656.15" y="217.7" font-size="9.5" textLength="5.21" lengthAdjust="spacingAndGlyphs" fill="#111111" >T</text>
<line x1="253.5" y1="200.5" x2="672" y2="200.5" stroke="#d9d9d9" stroke-width="1"/>
<line x1="253.50" y1="200.5" x2="253.50" y2="241" stroke="#d9d9d9" stroke-width="1"/>
<line x1="305.80" y1="200.5" x2="305.80" y2="241" stroke="#d9d9d9" stroke-width="1"/>
<line x1="358.10" y1="200.5" x2="358.10" y2="241" stroke="#d9d9d9" stroke-width="1"/>
<line x1="410.40" y1="200.5" x2="410.40" y2="241" stroke="#d9d9d9" stroke-width="1"/>
<line x1="462.70" y1="200.5" x2="462.70" y2="241" stroke="#d9d9d9" stroke-width="1"/>
<line x1="515.00" y1="200.5" x2="515.00" y2="241" stroke="#d9d9d9" stroke-width="1"/>
<line x1="567.30" y1="200.5" x2="567.30" y2="241" stroke="#d9d9d9" stroke-width="1"/>
<line x1="619.60" y1="200.5" x2="619.60" y2="241" stroke="#d9d9d9" stroke-width="1"/>
<line x1="671.90" y1="200.5" x2="671.90" y2="241" stroke="#d9d9d9" stroke-width="1"/>
<text x="272.95" y="238.0" font-size="9.5" textLength="13.02" lengthAdjust="spacingAndGlyphs" fill="#111111" >VIS</text>
<text x="325.20" y="238.0" font-size="9.5" textLength="13.10" lengthAdjust="spacingAndGlyphs" fill="#111111" >SM</text>
<text x="377.85" y="238.0" font-size="9.5" textLength="12.39" lengthAdjust="spacingAndGlyphs" fill="#111111" >DA</text>
<text x="430.75" y="238.0" font-size="9.5" textLength="11.15" lengthAdjust="spacingAndGlyphs" fill="#111111" >VA</text>
<text x="480.85" y="238.0" font-size="9.5" textLength="15.62" lengthAdjust="spacingAndGlyphs" fill="#111111" >LIM</text>
<text x="536.20" y="238.0" font-size="9.5" textLength="9.48" lengthAdjust="spacingAndGlyphs" fill="#111111" >FP</text>
<text x="586.15" y="238.0" font-size="9.5" textLength="14.20" lengthAdjust="spacingAndGlyphs" fill="#111111" >DM</text>
<text x="637.65" y="238.0" font-size="9.5" textLength="15.80" lengthAdjust="spacingAndGlyphs" fill="#111111" >CBL</text>
<path d="M624.8 89.3 L624.8 86.7 Q624.8 85.5 626.0 85.5 L667.5999999999999 85.5 Q668.8 85.5 668.8 86.7 L668.8 89.3" fill="none" stroke="#111" stroke-width="1.3" stroke-linecap="round"/>
<line x1="647.30" y1="77.30" x2="647.30" y2="81.70" stroke="#111" stroke-width="1.1" stroke-linecap="round"/>
<line x1="645.39" y1="78.40" x2="649.21" y2="80.60" stroke="#111" stroke-width="1.1" stroke-linecap="round"/>
<line x1="645.39" y1="80.60" x2="649.21" y2="78.40" stroke="#111" stroke-width="1.1" stroke-linecap="round"/>
<text x="9.80" y="267.8" font-size="12.5" textLength="8.38" lengthAdjust="spacingAndGlyphs" fill="#111111" >c.</text>
<text x="289.00" y="277.2" font-size="14.3" textLength="107.61" lengthAdjust="spacingAndGlyphs" fill="#111111" >System Diversity</text>
<text x="330.00" y="296.7" font-size="14.3" textLength="25.30" lengthAdjust="spacingAndGlyphs" fill="#111111" >(SD)</text>
</svg>
</body></html>
